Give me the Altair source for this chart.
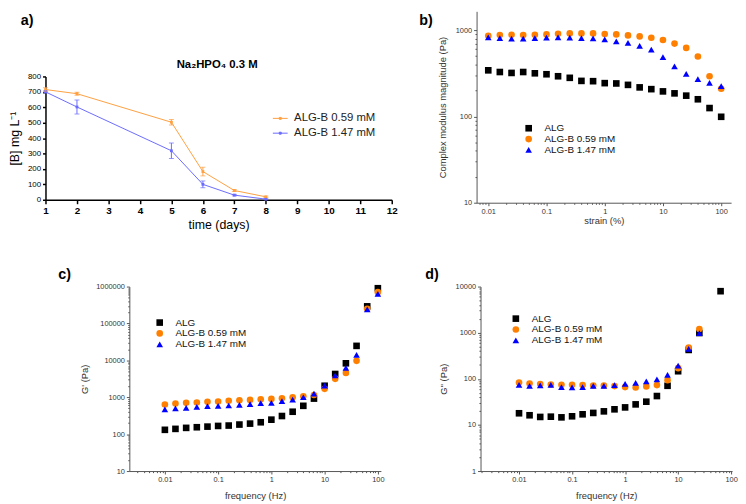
import altair as alt
import pandas as pd

FONT = "Liberation Sans"

# ---------------- panel a : boron release ----------------
days = [1, 2, 5, 6, 7, 8]
a_059 = [715, 688, 503, 183, 60, 19]
a_059_err = [12, 10, 18, 28, 6, 5]
a_147 = [700, 602, 318, 100, 30, 4]
a_147_err = [6, 45, 50, 22, 5, 3]
a_series = ["ALG-B 0.59 mM", "ALG-B 1.47 mM"]
a_colors = ["#ffa040", "#6b6bff"]
a_xticks = list(range(1, 13))
a_yticks = list(range(0, 801, 100))

# ---------------- panels b-d : rheology ----------------
series = ["ALG", "ALG-B 0.59 mM", "ALG-B 1.47 mM"]
colors = ["#000000", "#ff8000", "#0000ff"]
shapes = ["square", "circle", "triangle-up"]
sweep = [0.01, 0.0158, 0.0251, 0.0398, 0.0631, 0.1, 0.158, 0.251, 0.398, 0.631,
         1, 1.58, 2.51, 3.98, 6.31, 10, 15.8, 25.1, 39.8, 63.1, 100]

b_alg = [342, 327, 319, 327, 316, 308, 292, 280, 258, 256, 243, 241, 232, 217, 207,
         195, 185, 174, 158, 125, 99]
b_059 = [861, 877, 884, 877, 884, 892, 908, 916, 916, 916, 900, 892, 869, 846, 817,
         768, 698, 622, 495, 292, 209]
b_147 = [824, 810, 796, 796, 810, 817, 824, 817, 810, 803, 782, 742, 710, 656, 596,
         486, 380, 311, 270, 245, 224]

c_alg = [131, 139, 148, 154, 160, 167, 171, 182, 193, 210, 247, 310, 405, 586, 920,
         2050, 4270, 8320, 24700, 291000, 902000]
c_059 = [637, 676, 705, 719, 750, 766, 798, 832, 849, 884, 902, 940, 1000, 1064, 1154,
         1690, 3160, 4570, 9700, 250000, 705000]
c_147 = [468, 497, 518, 551, 574, 586, 598, 624, 649, 690, 705, 782, 865, 1000, 1253,
         2053, 3890, 6270, 14000, 242000, 635000]

d_alg = [17.9, 16.2, 14.9, 15.1, 14.6, 15.4, 17.0, 18.2, 19.7, 21.8, 24.0, 27.9, 31.9,
         42.3, 70.6, 146, 423, 984, None, 7940, None]
d_059 = [83.4, 79.3, 76.7, 75.5, 74.3, 74.3, 73.0, 71.8, 71.8, 69.5, 66.1, 65.0, 68.4,
         73.0, 93.5, 170, 474, 1200, None, None, None]
d_147 = [74.3, 70.6, 71.8, 74.3, 66.1, 65.0, 66.1, 70.6, 70.6, 73.0, 78.0, 82.0, 87.6,
         96.8, 122, 194, 444, 984, None, None, None]


def long_df(xs, cols):
    rows = []
    for name, vals in zip(series, cols):
        for x, v in zip(xs, vals):
            if v is not None:
                rows.append({"x": x, "y": v, "series": name})
    return pd.DataFrame(rows)


def log_values(lo, hi):
    out = []
    for e in range(-4, 8):
        for m in range(1, 10):
            v = round(m * 10.0 ** e, 10)
            if lo <= v <= hi:
                out.append(v)
    return out


def panel_label(txt, x, y):
    return alt.Chart(pd.DataFrame({"t": [txt]})).mark_text(
        align="left", baseline="alphabetic", fontSize=14.5, fontWeight="bold",
        font=FONT, color="black"
    ).encode(text="t:N", x=alt.value(x), y=alt.value(y))


# ---------------- build panel a ----------------
rows_a = []
for name, vals, errs in zip(a_series, [a_059, a_147], [a_059_err, a_147_err]):
    for d, v, e in zip(days, vals, errs):
        rows_a.append({"day": d, "val": v, "lo": v - e, "hi": v + e, "series": name})
df_a = pd.DataFrame(rows_a)

A_W, A_H = 351, 191
xa_scale = alt.Scale(domain=[1, 12], nice=False)
ya_scale = alt.Scale(domain=[0, 800], range=[A_H, 66], nice=False)
xa_axis = alt.Axis(values=a_xticks, title="time (days)", labelFontWeight="bold",
                   labelFontSize=10, labelColor="black", titleFontSize=12.5,
                   titleColor="black", titleFontWeight="normal", titlePadding=3,
                   domainColor="black", domainWidth=1.5, tickColor="black",
                   tickWidth=1.5, tickSize=4, grid=False, labelPadding=2,
                   labelFlush=False)
ya_axis = alt.Axis(values=a_yticks, title="[B] mg L⁻¹", labelFontSize=8,
                   labelColor="black", titleFontSize=12.5, titleColor="black",
                   titleFontWeight="normal", titlePadding=6, domainColor="black",
                   domainWidth=1.5, tickColor="black", tickWidth=1.5, tickSize=3,
                   grid=False, labelPadding=2)
a_color = alt.Color(
    "series:N", scale=alt.Scale(domain=a_series, range=a_colors),
    legend=alt.Legend(
        title=None, orient="none", legendX=230, legendY=100.5,
        symbolType="M-1,0L1,0M-0.13,-0.13L0.13,-0.13L0.13,0.13L-0.13,0.13Z",
        symbolSize=225, symbolStrokeWidth=1, labelFontSize=11.5, labelColor="#222",
        labelOffset=6, rowPadding=1, labelFont=FONT))

base_a = alt.Chart(df_a)
line_a = base_a.mark_line(strokeWidth=1).encode(
    x=alt.X("day:Q", scale=xa_scale, axis=xa_axis),
    y=alt.Y("val:Q", scale=ya_scale, axis=ya_axis),
    color=a_color,
)
pts_a = base_a.mark_point(filled=True, shape="square", size=8, opacity=1).encode(
    x=alt.X("day:Q", scale=xa_scale, axis=xa_axis),
    y=alt.Y("val:Q", scale=ya_scale, axis=ya_axis),
    color=a_color,
)
err_rule = base_a.mark_rule(strokeWidth=1).encode(
    x=alt.X("day:Q", scale=xa_scale, axis=xa_axis),
    y=alt.Y("lo:Q", scale=ya_scale, axis=ya_axis),
    y2="hi:Q",
    color=a_color,
)
err_lo = base_a.mark_tick(size=5, thickness=1, orient="horizontal").encode(
    x=alt.X("day:Q", scale=xa_scale, axis=xa_axis),
    y=alt.Y("lo:Q", scale=ya_scale, axis=ya_axis),
    color=a_color,
)
err_hi = base_a.mark_tick(size=5, thickness=1, orient="horizontal").encode(
    x=alt.X("day:Q", scale=xa_scale, axis=xa_axis),
    y=alt.Y("hi:Q", scale=ya_scale, axis=ya_axis),
    color=a_color,
)
title_a = alt.Chart(pd.DataFrame({"t": ["Na₂HPO₄ 0.3 M"]})).mark_text(
    align="center", baseline="alphabetic", fontSize=11.5, fontWeight="bold",
    font=FONT, color="black"
).encode(text="t:N", x=alt.value(174), y=alt.value(57))

panel_a = alt.layer(line_a, pts_a, err_rule, err_lo, err_hi, title_a,
                    panel_label("a)", -25, 14)).properties(width=A_W, height=A_H)

# ---------------- log panels ----------------
MAJ = "abs(log(datum.value)/LN10 - round(log(datum.value)/LN10)) < 0.001"


def log_axis(values, title, tp):
    return alt.Axis(
        values=values, title=title, titlePadding=tp,
        labelExpr="(" + MAJ + ") ? format(datum.value, '~r') : ''",
        tickDash={"condition": {"test": MAJ, "value": [4, 0]}, "value": [1.6, 10]},
        tickSize=3, tickWidth=1, tickColor="#555", domainColor="#555", domainWidth=1,
        labelFontSize=7.5, labelColor="#333", titleFontSize=9.5, titleColor="#333",
        titleFontWeight="normal", labelOverlap=False, labelFlush=False, grid=False,
        labelPadding=2)


def log_panel(df, xdom, ydom, xtitle, ytitle, w, h, lx, ly, xtp, ytp, label, lpos):
    leg = alt.Legend(title=None, orient="none", legendX=lx, legendY=ly, symbolSize=45,
                     labelFontSize=10, labelColor="#111", labelOffset=11,
                     rowPadding=1, labelFont=FONT)
    pts = alt.Chart(df).mark_point(filled=True, size=45, opacity=1).encode(
        x=alt.X("x:Q", scale=alt.Scale(type="log", domain=xdom, nice=False),
                axis=log_axis(log_values(*xdom), xtitle, xtp)),
        y=alt.Y("y:Q", scale=alt.Scale(type="log", domain=ydom, nice=False),
                axis=log_axis(log_values(*ydom), ytitle, ytp)),
        color=alt.Color("series:N", scale=alt.Scale(domain=series, range=colors),
                        legend=leg),
        shape=alt.Shape("series:N", scale=alt.Scale(domain=series, range=shapes),
                        legend=leg),
    )
    return alt.layer(pts, panel_label(label, *lpos)).properties(width=w, height=h)


panel_b = log_panel(long_df(sweep, [b_alg, b_059, b_147]), [0.0063, 148], [10, 1650],
                    "strain (%)", "Complex modulus magnitude (Pa)", 258, 194,
                    47.8, 113.5, 1, 7.5, "b)", (-58, 14))
panel_c = log_panel(long_df(sweep, [c_alg, c_059, c_147]), [0.00215, 114], [10, 1000000],
                    "frequency (Hz)", "G' (Pa)", 255, 187,
                    25.8, 31.5, 7, 6, "c)", (-72, -8))
panel_d = log_panel(long_df(sweep, [d_alg, d_059, d_147]), [0.00188, 104], [1, 10000],
                    "frequency (Hz)", "G'' (Pa)", 255, 187,
                    30.8, 27.5, 7, 6.4, "d)", (-56, -8))

spacer = alt.Chart(pd.DataFrame({"v": [0]})).mark_point(opacity=0).encode(
    x=alt.X("v:Q", axis=None), y=alt.Y("v:Q", axis=None)).properties(width=1, height=187)

row1 = alt.hconcat(panel_a, panel_b, spacing=86, bounds="flush").resolve_scale(
    color="independent", shape="independent")
inner2 = alt.hconcat(panel_c, panel_d, spacing=101, bounds="flush").resolve_scale(
    color="independent", shape="independent")
row2 = alt.hconcat(spacer, inner2, spacing=84, bounds="flush").resolve_scale(
    color="independent", shape="independent")

chart = alt.vconcat(row1, row2, spacing=279, bounds="flush").resolve_scale(
    color="independent", shape="independent"
).properties(padding=0).configure(font=FONT).configure_view(stroke=None)

chart.save("out.html", embed_options={"renderer": "svg", "actions": False})
